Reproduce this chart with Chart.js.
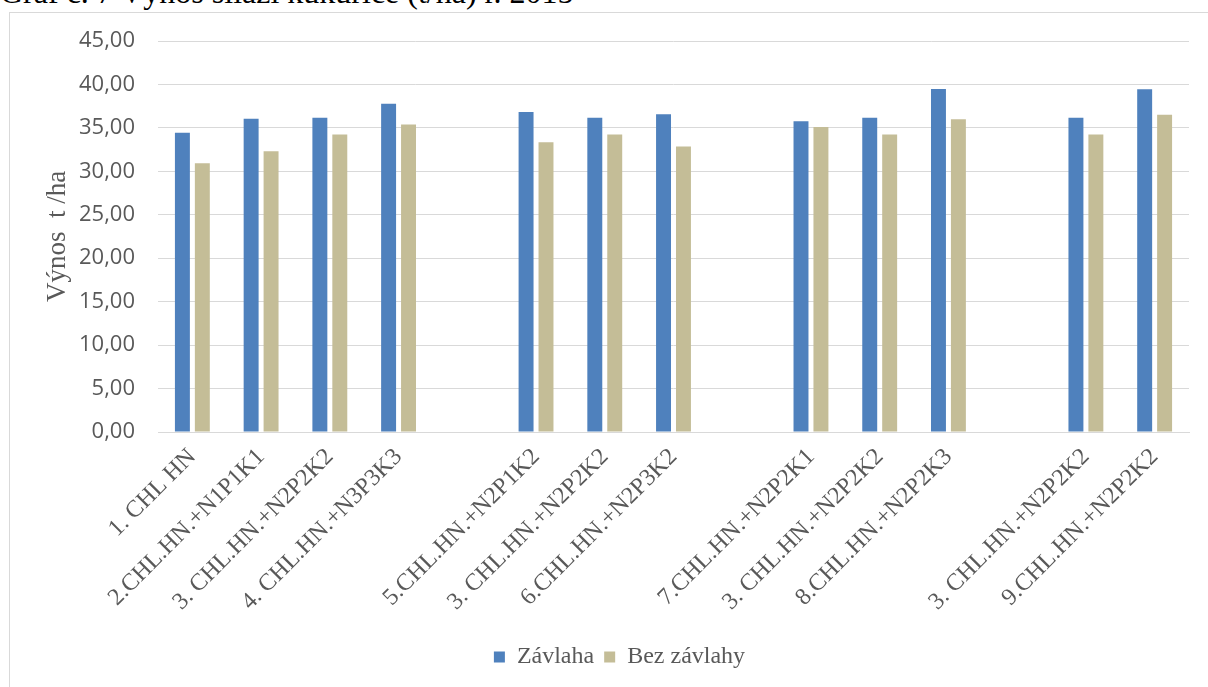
<!DOCTYPE html>
<html>
<head>
<meta charset="utf-8">
<script src="https://cdn.jsdelivr.net/npm/chart.js@4.4.0/dist/chart.umd.min.js"></script>
<style>
  html,body{margin:0;padding:0;background:#fff;overflow:hidden;}
  #wrap{position:relative;width:1208px;height:687px;overflow:hidden;}
  #title{position:absolute;left:0;top:-24px;font-family:"Liberation Serif","DejaVu Serif",serif;font-size:32px;line-height:32px;color:#000;white-space:nowrap;}
  #frame{position:absolute;left:9px;top:12px;width:1210px;height:700px;border:1px solid #d9d9d9;box-sizing:border-box;}
  #c{position:absolute;left:0;top:0;}
</style>
</head>
<body>
<div id="wrap">
  <div id="title">Graf č. 7 Výnos siláží kukuřice (t/ha) r. 2015</div>
  <div id="frame"></div>
  <canvas id="c" width="1208" height="687"></canvas>
</div>
<script>
const categories = [
  "1. CHL HN", "2.CHL.HN.+N1P1K1", "3. CHL.HN.+N2P2K2", "4. CHL.HN.+N3P3K3", "",
  "5.CHL.HN.+N2P1K2", "3. CHL.HN.+N2P2K2", "6.CHL.HN.+N2P3K2", "",
  "7.CHL.HN.+N2P2K1", "3. CHL.HN.+N2P2K2", "8.CHL.HN.+N2P2K3", "",
  "3. CHL.HN.+N2P2K2", "9.CHL.HN.+N2P2K2"
];
const zavlaha = [34.44, 36.06, 36.17, 37.79, null, 36.83, 36.17, 36.56, null, 35.75, 36.17, 39.49, null, 36.17, 39.45];
const bezZavlahy = [30.93, 32.31, 34.24, 35.40, null, 33.36, 34.24, 32.86, null, 35.09, 34.24, 35.98, null, 34.24, 36.52];
const yTicks = [0, 5, 10, 15, 20, 25, 30, 35, 40, 45];
const yTickLabels = ["0,00", "5,00", "10,00", "15,00", "20,00", "25,00", "30,00", "35,00", "40,00", "45,00"];

const serif = "'Liberation Serif', 'DejaVu Serif', serif";
const sans = "'Open Sans', 'Liberation Sans', sans-serif";

Chart.defaults.font.family = serif;
Chart.defaults.font.size = 24;
Chart.defaults.color = '#595959';

const legendShift = {
  id: 'legendShift',
  afterLayout(chart) {
    const l = chart.legend;
    if (l) { l.left += 25; l.right += 25; }
  }
};

new Chart(document.getElementById('c'), {
  type: 'bar',
  data: {
    labels: categories,
    datasets: [
      { label: 'Závlaha', data: zavlaha, backgroundColor: '#4F81BD', categoryPercentage: 0.58, barPercentage: 0.75 },
      { label: 'Bez závlahy', data: bezZavlahy, backgroundColor: '#C4BD97', categoryPercentage: 0.58, barPercentage: 0.75 }
    ]
  },
  plugins: [legendShift],
  options: {
    responsive: false,
    animation: false,
    layout: { padding: { top: 41, right: 19, bottom: 8, left: 0 } },
    plugins: {
      legend: {
        position: 'bottom',
        labels: {
          font: { family: serif, size: 24 },
          color: '#595959',
          boxWidth: 11,
          boxHeight: 11,
          padding: 10
        }
      },
      tooltip: { enabled: false }
    },
    scales: {
      x: {
        grid: { display: false },
        border: { display: true, color: '#d9d9d9', width: 1 },
        ticks: {
          autoSkip: false,
          maxRotation: 45,
          minRotation: 45,
          color: '#595959',
          font: { family: serif, size: 24 }
        },
        afterFit: (s) => { s.height = 203; }
      },
      y: {
        min: 0,
        max: 45,
        afterBuildTicks: (s) => { s.ticks = yTicks.map(v => ({ value: v })); },
        grid: { color: '#d9d9d9', lineWidth: 1, drawTicks: false },
        border: { display: false },
        ticks: {
          padding: 23,
          color: '#595959',
          font: { family: sans, size: 22 },
          callback: (v) => yTickLabels[yTicks.indexOf(v)]
        },
        title: {
          display: true,
          text: 'Výnos  t /ha',
          color: '#595959',
          font: { family: serif, size: 27 },
          padding: { top: 42, bottom: 0 }
        },
        afterFit: (s) => { s.width = 158; }
      }
    }
  }
});
</script>
</body>
</html>
